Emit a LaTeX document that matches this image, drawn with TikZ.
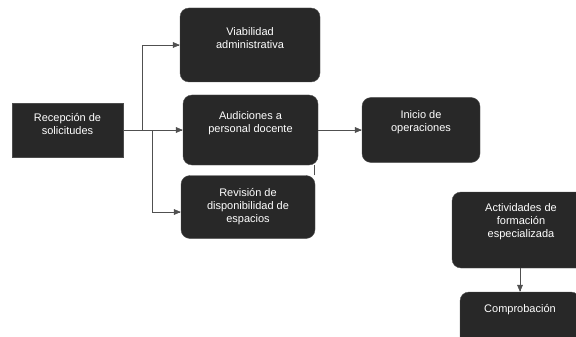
\documentclass[tikz,border=0pt]{standalone}
\usepackage{fontspec}
\setmainfont{Liberation Sans}
\usetikzlibrary{shapes,arrows}
\definecolor{boxfill}{HTML}{282828}
\definecolor{linegray}{HTML}{505050}
\tikzset{%
	block/.style		= {draw=black!70, fill=boxfill, rounded corners=9pt, text=white, align=center, inner sep=2pt, font=\fontsize{11}{13}\selectfont},
	sqblock/.style		= {draw=black!70, fill=boxfill, text=white, align=center, inner sep=2pt, font=\fontsize{11}{13}\selectfont},
	lift/.style			= {text depth=#1}, % Moves the text up
	link/.style			= {draw=linegray, semithick}, % Connector
	branch/.style		= {coordinate} % Branch point
}

\begin{document}
\begin{tikzpicture}[x=1pt, y=-1pt, >=triangle 45]
	\useasboundingbox (0,0) rectangle (576,337);
	\clip (0,0) rectangle (576,337);
	\draw % Drawing the boxes
	node at (67.5,130) [sqblock, lift=12.5pt, minimum width=111pt, minimum height=54pt] (recep) {Recepción de\\solicitudes}
	node at (250,45) [block, lift=13.5pt, minimum width=140pt, minimum height=74pt] (viab) {Viabilidad\\administrativa}
	node at (250.5,130) [block, lift=16.5pt, minimum width=135pt, minimum height=70pt] (audic) {Audiciones a\\personal docente}
	node at (248,207) [block, minimum width=134pt, minimum height=63pt] (revis) {Revisión de\\disponibilidad de\\espacios}
	node at (421,130) [block, lift=18.5pt, minimum width=118pt, minimum height=65pt] (inicio) {Inicio de\\operaciones}
	node at (521,230) [block, lift=18.5pt, minimum width=138pt, minimum height=76pt] (activ) {Actividades de\\formación\\especializada}
	node at (520,320) [block, lift=22.5pt, minimum width=120pt, minimum height=56pt] (compro) {Comprobación}
	node at (142,130) [branch] (b1) {}
	node at (152,130) [branch] (b2) {}
	;
	
	% Drawing the arrows
	\draw[link] (recep) -- (b1);
	\draw[link, ->] (b1) |- (viab.west);
	\draw[link, ->] (b1) -- (audic);
	\draw[link, ->] (b2) |- ([yshift=-5pt]revis.west);
	\draw[link, ->] (audic) -- (inicio);
	\draw[link] ([xshift=-1pt]revis.north east) -- ([xshift=-1pt]revis.north east |- audic.south);
	\draw[link, ->] (activ.south -| compro) -- (compro);
\end{tikzpicture}
\end{document}
